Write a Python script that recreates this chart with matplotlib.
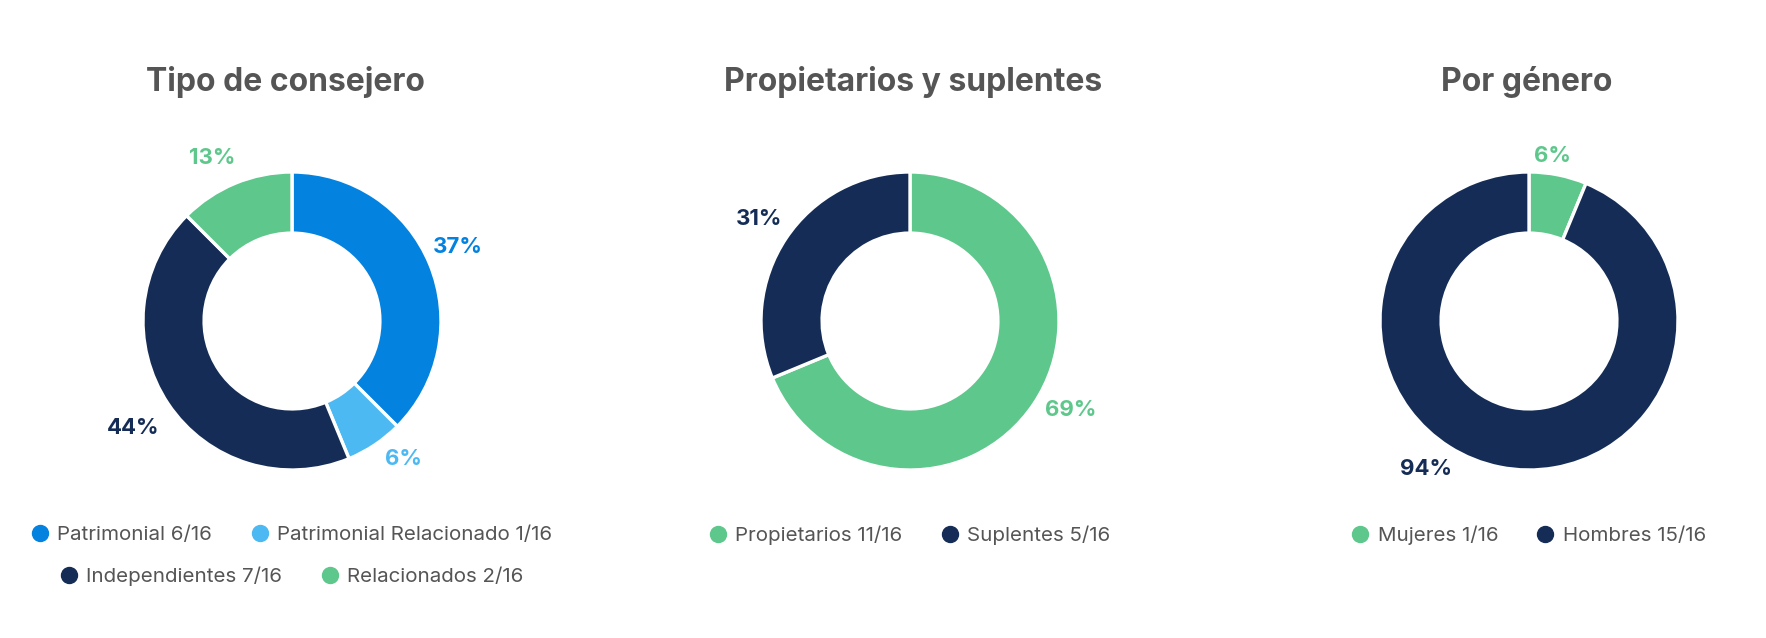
import numpy as np
import matplotlib
matplotlib.use("Agg")
import matplotlib.pyplot as plt
from matplotlib.lines import Line2D

plt.rcParams['font.family'] = ['Inter', 'DejaVu Sans']

# colours
blue = '#0382e0'
light_blue = '#4db9f2'
navy = '#152d56'
green = '#5ec78c'
grey = '#555555'

# data
titles = ['Tipo de consejero', 'Propietarios y suplentes', 'Por género']

tipo_labels = ['Patrimonial', 'Patrimonial Relacionado', 'Independientes', 'Relacionados']
tipo_counts = [6, 1, 7, 2]
tipo_colors = [blue, light_blue, navy, green]
tipo_pct = ['37%', '6%', '44%', '13%']

prop_labels = ['Propietarios', 'Suplentes']
prop_counts = [11, 5]
prop_colors = [green, navy]
prop_pct = ['69%', '31%']

gen_labels = ['Mujeres', 'Hombres']
gen_counts = [1, 15]
gen_colors = [green, navy]
gen_pct = ['6%', '94%']

total = 16

# label placement around each ring (angle in degrees, distance in radii)
tipo_lab_pos = [(24, 1.22), (-51, 1.19), (-146, 1.29), (116, 1.22)]
prop_lab_pos = [(-29, 1.23), (146, 1.22)]
gen_lab_pos = [(82, 1.12), (-125, 1.21)]

# layout (pixels, top-left origin)
W, H = 1766, 638
centers_x = [292, 910, 1529]
title_x = [285, 913, 1527]
center_y = 321
R = 149
title_y = 82
legend_rows_y = [535, 576]
lim = 1.6

charts = [
    (tipo_labels, tipo_counts, tipo_colors, tipo_pct, tipo_lab_pos, [[0, 1], [2, 3]]),
    (prop_labels, prop_counts, prop_colors, prop_pct, prop_lab_pos, [[0, 1]]),
    (gen_labels, gen_counts, gen_colors, gen_pct, gen_lab_pos, [[0, 1]]),
]

fig = plt.figure(figsize=(W / 100, H / 100), dpi=100)
S = 2 * R * lim

for i, (labels, counts, colors, pct, lab_pos, rows) in enumerate(charts):
    cx = centers_x[i]
    ax = fig.add_axes([(cx - S / 2) / W, (H - center_y - S / 2) / H, S / W, S / H])
    wedges, _ = ax.pie(counts, colors=colors, startangle=90, counterclock=False,
                       radius=1, wedgeprops=dict(width=0.41, edgecolor='white', linewidth=2.4))
    ax.set_xlim(-lim, lim)
    ax.set_ylim(-lim, lim)
    ax.set_aspect('equal')
    ax.axis('off')

    # percentage labels around the ring
    for j, (a, r) in enumerate(lab_pos):
        ang = np.deg2rad(a)
        ax.text(r * np.cos(ang), r * np.sin(ang), pct[j], color=colors[j],
                fontsize=16, fontweight='bold', ha='center', va='center')

    fig.text(title_x[i] / W, 1 - title_y / H, titles[i], color=grey, fontsize=23,
             fontweight='bold', ha='center', va='center')

    # legends, one per row so each row is centred on its own
    for r, idx in enumerate(rows):
        handles = [Line2D([], [], linestyle='none', marker='o', markersize=11.5,
                          markerfacecolor=colors[k], markeredgecolor=colors[k]) for k in idx]
        texts = [f'{labels[k]} {counts[k]}/{total}' for k in idx]
        leg = fig.legend(handles, texts, loc='center', ncol=len(idx),
                         bbox_to_anchor=(cx / W, 1 - legend_rows_y[r] / H),
                         frameon=False, fontsize=14.8, handlelength=0.8,
                         handletextpad=0.46, columnspacing=1.9, borderpad=0)
        for t in leg.get_texts():
            t.set_color(grey)

fig.savefig('out.png', dpi=100, facecolor='white')
